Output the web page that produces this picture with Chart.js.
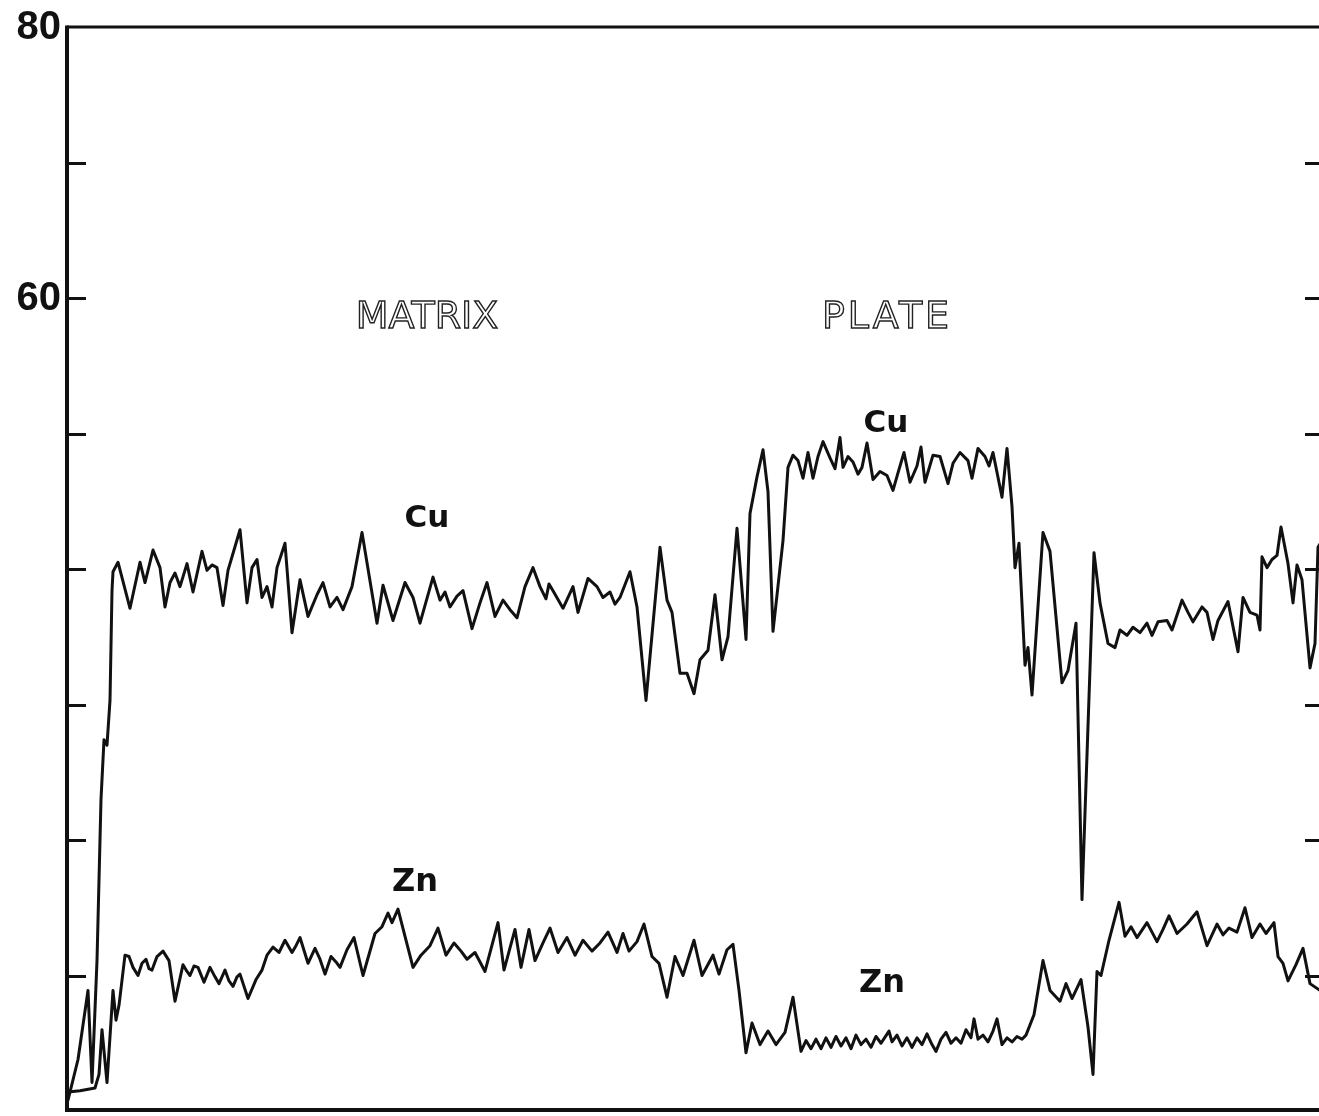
<!DOCTYPE html>
<html>
<head>
<meta charset="utf-8">
<script src="https://cdn.jsdelivr.net/npm/chart.js@4/dist/chart.umd.min.js"></script>
<style>
  html, body { margin: 0; padding: 0; background: #fff; overflow: hidden; }
  canvas { display: block; }
</style>
</head>
<body>
<canvas id="trace" width="1319" height="1116"></canvas>
<script>
// Microprobe line scan: Cu and Zn signal across matrix and plate
const yTicks = [0, 10, 20, 30, 40, 50, 60, 70, 80];
const yTickLabels = { 80: '80', 60: '60' };

const cuX = [0.1, 1.1, 2.1, 2.5, 3.0, 3.4, 3.7, 4.0, 4.3, 4.5, 4.6, 5.1, 6.3, 7.3, 7.8, 8.6, 9.3, 9.8, 10.3, 10.8,
  11.3, 12.0, 12.6, 13.5, 14.0, 14.5, 15.0, 15.6, 16.1, 17.3, 18.0, 18.5, 19.0, 19.5, 20.0, 20.5, 21.0, 21.8, 22.5, 23.3,
  24.1, 25.0, 25.6, 26.3, 27.0, 27.6, 28.5, 29.5, 31.0, 31.6, 32.6, 33.2, 33.8, 34.6, 35.3, 36.6, 37.3, 37.8, 38.3, 39.0, 39.6, 40.5, 41.3, 42.0,
  42.8, 43.6, 44.3, 45.0, 45.8, 46.6, 47.3, 47.9, 48.2, 48.6, 49.6, 50.6, 51.1, 52.1, 53.0, 53.6, 54.3, 54.8, 55.3, 56.3, 57.0, 57.9, 59.3, 60.0, 60.5,
  61.3, 62.0, 62.7, 63.3, 64.1, 64.8, 65.5, 66.1, 67.0, 67.9, 68.3, 69.0, 69.6, 70.1, 70.6, 71.6, 72.1, 72.6, 73.1, 73.6,
  74.1, 74.6, 75.1, 75.6, 76.3, 76.8, 77.3, 77.6, 78.1, 78.6, 79.1, 79.5, 80.0, 80.6, 81.3, 82.0, 82.6, 83.1, 83.7, 84.3, 85.0, 85.4, 85.8, 86.6,
  87.3, 88.1, 88.6, 89.3, 90.1, 90.5, 91.1, 91.8, 92.2, 92.6, 93.5, 94.0, 94.5, 94.8, 95.2, 95.8, 96.1, 96.5, 97.6, 98.3, 99.5,
  100.1, 100.9, 101.5, 102.7, 103.3, 104.1, 104.8, 105.3, 106.0, 106.6, 107.3, 108.0, 108.5, 109.1, 110.0, 110.5, 111.5, 112.1, 112.6, 113.5,
  114.0, 114.6, 115.1, 116.1, 117.1, 117.6, 118.3, 119.0, 119.3, 119.5, 120.0, 120.5, 121.0, 121.4, 122.1, 122.6, 123.0, 123.5, 124.3, 124.8,
  125.1, 125.5];
const cuY = [0.8, 3.8, 8.9, 2.1, 11.1, 23.0, 27.4, 27.0, 30.3, 38.4, 39.8, 40.5, 37.1, 40.5, 39.0, 41.4, 40.1, 37.2, 39.0, 39.7,
  38.7, 40.4, 38.3, 41.3, 39.9, 40.3, 40.1, 37.3, 39.9, 42.9, 37.5, 40.1, 40.7, 37.9, 38.7, 37.2, 40.1, 41.9, 35.3, 39.2,
  36.5, 38.1, 39.0, 37.2, 37.9, 37.0, 38.7, 42.7, 36.0, 38.8, 36.2, 37.6, 39.0, 37.9, 36.0, 39.4, 37.7, 38.3, 37.2, 38.0, 38.4, 35.6, 37.5, 39.0,
  36.5, 37.7, 37.0, 36.4, 38.7, 40.1, 38.7, 37.8, 38.9, 38.4, 37.1, 38.7, 36.8, 39.3, 38.7, 37.9, 38.3, 37.4, 37.9, 39.8, 37.2, 30.3, 41.6, 37.7, 36.8,
  32.3, 32.3, 30.8, 33.3, 34.0, 38.1, 33.3, 35.0, 43.0, 34.8, 44.1, 46.8, 48.8, 45.7, 35.4, 42.1, 47.5, 48.4, 48.0, 46.7,
  48.6, 46.7, 48.3, 49.4, 48.2, 47.4, 49.7, 47.5, 48.3, 47.9, 47.0, 47.5, 49.3, 46.6, 47.2, 46.9, 45.8, 47.1, 48.6, 46.4, 47.6, 49.0, 46.4, 48.4,
  48.3, 46.3, 47.8, 48.6, 48.0, 46.7, 48.9, 48.3, 47.6, 48.6, 45.3, 48.9, 44.6, 40.1, 41.9, 32.9, 34.2, 30.7, 42.7, 41.3, 31.6,
  32.5, 36.0, 15.6, 41.2, 37.5, 34.5, 34.2, 35.5, 35.1, 35.7, 35.3, 36.0, 35.1, 36.1, 36.2, 35.5, 37.7, 36.8, 36.1, 37.2,
  36.8, 34.8, 36.2, 37.6, 33.9, 37.9, 36.8, 36.6, 35.5, 40.9, 40.1, 40.7, 41.0, 43.1, 40.4, 37.5, 40.3, 39.2, 32.7, 34.5,
  41.6, 42.1];

const znX = [0.1, 1.3, 2.8, 3.2, 3.5, 4.0, 4.6, 4.9, 5.2, 5.8, 6.2, 6.6, 7.1, 7.5, 7.9, 8.2, 8.5, 9.0, 9.6, 10.2,
  10.8, 11.6, 12.0, 12.3, 12.7, 13.1, 13.7, 14.3, 14.8, 15.2, 15.8, 16.2, 16.6, 17.0, 17.3, 18.1, 18.9, 19.5, 20.0, 20.6,
  21.2, 21.8, 22.5, 22.9, 23.3, 24.1, 24.8, 25.3, 25.8, 26.4, 26.9, 27.3, 28.0, 28.7, 29.6, 30.8, 31.5, 32.1, 32.5, 33.1,
  34.6, 35.4, 36.3, 37.1, 37.9, 38.7, 39.4, 40.0, 40.8, 41.8, 43.1, 43.7, 44.8, 45.4, 46.2, 46.8, 47.6, 48.3, 49.1, 50.0,
  50.8, 51.6, 52.5, 53.3, 54.1, 55.0, 55.6, 56.2, 57.0, 57.7, 58.5, 59.2, 60.0, 60.8, 61.6, 62.7, 63.5, 64.6, 65.2, 66.0,
  66.6, 67.2, 67.9, 68.5, 69.3, 70.1, 70.9, 71.8, 72.6, 73.4, 73.9, 74.4, 74.9, 75.4, 75.9, 76.4, 76.9, 77.4, 77.9, 78.4,
  78.9, 79.4, 79.9, 80.4, 80.9, 81.4, 82.2, 82.5, 83.0, 83.5, 84.0, 84.5, 85.0, 85.5, 86.0, 86.5, 86.9, 87.4, 87.9, 88.4,
  88.9, 89.4, 89.9, 90.4, 90.7, 91.1, 91.6, 92.1, 92.6, 93.0, 93.5, 94.0, 94.5, 95.0, 95.5, 95.9, 96.7, 97.6, 98.3, 99.3,
  99.9, 100.5, 101.4, 102.1, 102.6, 103.0, 103.4, 104.2, 105.2, 105.8, 106.4, 107.0, 108.0, 109.0, 109.6, 110.2, 111.0, 112.0, 113.0, 114.0,
  115.0, 115.6, 116.2, 117.0, 117.8, 118.5, 119.3, 119.9, 120.7, 121.1, 121.6, 122.1, 122.9, 123.6, 124.3, 125.3];
const znY = [1.4, 1.5, 1.7, 2.7, 6.0, 2.1, 8.9, 6.7, 7.8, 11.5, 11.4, 10.6, 10.0, 10.9, 11.2, 10.5, 10.4, 11.4, 11.8, 11.1,
  8.1, 10.8, 10.3, 10.0, 10.7, 10.6, 9.5, 10.6, 9.9, 9.4, 10.4, 9.6, 9.2, 9.9, 10.1, 8.3, 9.7, 10.4, 11.5, 12.1,
  11.7, 12.6, 11.7, 12.2, 12.8, 10.9, 12.0, 11.2, 10.1, 11.4, 11.0, 10.6, 11.9, 12.8, 10.0, 13.1, 13.6, 14.6, 13.9, 14.9,
  10.6, 11.5, 12.2, 13.5, 11.5, 12.4, 11.8, 11.2, 11.7, 10.3, 13.9, 10.4, 13.4, 10.6, 13.4, 11.1, 12.4, 13.5, 11.7, 12.8,
  11.5, 12.6, 11.8, 12.4, 13.2, 11.7, 13.1, 11.8, 12.5, 13.8, 11.4, 10.9, 8.4, 11.4, 10.0, 12.6, 10.0, 11.5, 10.1, 11.9,
  12.3, 8.9, 4.3, 6.5, 4.9, 5.9, 4.9, 5.8, 8.4, 4.4, 5.2, 4.6, 5.3, 4.6, 5.4, 4.7, 5.5, 4.8, 5.4, 4.6,
  5.6, 4.9, 5.3, 4.7, 5.5, 5.0, 5.9, 5.1, 5.6, 4.8, 5.4, 4.7, 5.4, 4.9, 5.7, 4.9, 4.4, 5.3, 5.8, 5.0,
  5.4, 5.0, 6.0, 5.4, 6.8, 5.3, 5.6, 5.1, 5.9, 6.8, 4.9, 5.4, 5.1, 5.5, 5.3, 5.6, 7.1, 11.1, 8.9, 8.1,
  9.4, 8.3, 9.7, 6.2, 2.7, 10.3, 10.0, 12.6, 15.4, 12.9, 13.6, 12.8, 13.9, 12.5, 13.4, 14.4, 13.1, 13.8, 14.7, 12.2,
  13.8, 13.0, 13.5, 13.2, 15.0, 12.8, 13.8, 13.1, 13.9, 11.4, 10.9, 9.6, 10.8, 12.0, 9.4, 8.9];

// Text annotations placed in data coordinates
const annotations = [
  { text: 'MATRIX', x: 36.0, y: 57.8, size: 38, style: 'outline', spacing: 0 },
  { text: 'PLATE',  x: 82.0, y: 57.8, size: 38, style: 'outline', spacing: 3 },
  { text: 'Cu',     x: 81.9, y: 50.1, size: 31, style: 'solid' },
  { text: 'Cu',     x: 36.0, y: 43.1, size: 31, style: 'solid' },
  { text: 'Zn',     x: 34.8, y: 16.2, size: 32, style: 'solid' },
  { text: 'Zn',     x: 81.5, y: 8.8,  size: 32, style: 'solid' }
];

const toPoints = (xs, ys) => xs.map((x, i) => ({ x, y: ys[i] }));

const ink = '#111';

const frame = {
  id: 'frame',
  afterDatasetsDraw(chart) {
    const { ctx, chartArea: a, scales: { x, y } } = chart;
    ctx.save();
    ctx.strokeStyle = ink;
    ctx.lineCap = 'butt';

    // top border
    ctx.lineWidth = 3;
    ctx.beginPath();
    ctx.moveTo(a.left, a.top);
    ctx.lineTo(a.right, a.top);
    ctx.stroke();

    // left axis
    ctx.lineWidth = 4;
    ctx.beginPath();
    ctx.moveTo(a.left, a.top - 1.5);
    ctx.lineTo(a.left, a.bottom + 1);
    ctx.stroke();

    // bottom axis
    ctx.beginPath();
    ctx.moveTo(a.left, a.bottom - 1);
    ctx.lineTo(a.right, a.bottom - 1);
    ctx.stroke();

    // inward ticks on both sides
    ctx.lineWidth = 3;
    yTicks.forEach(v => {
      if (v === 0 || v === 80) return;
      const py = Math.round(y.getPixelForValue(v)) + 0.5;
      ctx.beginPath();
      ctx.moveTo(a.left, py);
      ctx.lineTo(a.left + 19, py);
      ctx.stroke();
      ctx.beginPath();
      ctx.moveTo(a.right - 14, py);
      ctx.lineTo(a.right, py);
      ctx.stroke();
    });

    // tick labels
    ctx.fillStyle = ink;
    ctx.font = 'bold 40px "Liberation Sans"';
    ctx.textAlign = 'right';
    ctx.textBaseline = 'middle';
    Object.keys(yTickLabels).forEach(k => {
      ctx.fillText(yTickLabels[k], a.left - 6, y.getPixelForValue(+k) + 1);
    });

    // annotations
    ctx.textAlign = 'center';
    ctx.textBaseline = 'alphabetic';
    annotations.forEach(t => {
      const px = x.getPixelForValue(t.x);
      const py = y.getPixelForValue(t.y);
      if (t.style === 'outline') {
        ctx.font = `${t.size}px "DejaVu Sans"`;
        if ('letterSpacing' in ctx) ctx.letterSpacing = t.spacing + 'px';
        ctx.lineWidth = 1.4;
        ctx.strokeStyle = '#222';
        ctx.strokeText(t.text, px, py);
        if ('letterSpacing' in ctx) ctx.letterSpacing = '0px';
      } else {
        ctx.font = `bold ${t.size}px "DejaVu Sans"`;
        ctx.fillStyle = ink;
        ctx.fillText(t.text, px, py);
      }
    });
    ctx.restore();
  }
};

new Chart(document.getElementById('trace'), {
  type: 'line',
  data: {
    datasets: [
      { label: 'Cu', data: toPoints(cuX, cuY) },
      { label: 'Zn', data: toPoints(znX, znY) }
    ]
  },
  options: {
    responsive: false,
    animation: false,
    devicePixelRatio: 1,
    layout: { padding: { left: 67, top: 27, right: 0, bottom: 5 } },
    elements: {
      line: { borderColor: ink, borderWidth: 3, tension: 0, borderJoinStyle: 'round', borderCapStyle: 'round' },
      point: { radius: 0, hoverRadius: 0 }
    },
    scales: {
      x: { type: 'linear', min: 0, max: 125.2, display: false },
      y: { type: 'linear', min: 0, max: 80, display: false }
    },
    plugins: {
      legend: { display: false },
      tooltip: { enabled: false }
    }
  },
  plugins: [frame]
});
</script>
</body>
</html>
